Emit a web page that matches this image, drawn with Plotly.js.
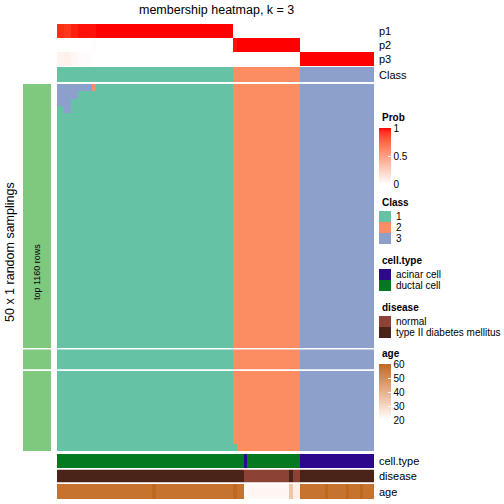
<!DOCTYPE html>
<html><head><meta charset="utf-8">
<script src="https://cdn.plot.ly/plotly-3.0.1.min.js"></script>
<style>html,body{margin:0;padding:0;background:#fff}#chart{width:504px;height:504px}</style>
</head><body><div id="chart"></div>
<script>
// ---------------- data ----------------
const nSamplings = 50;
const sliceRows = [36, 3, 11];           // row slices of the sampling matrix
const p1 = [0.94,0.94,0.92,0.92,0.96,0.96,0.98,0.98,0.98,0.98,
            0.98,1,1,1,1,1,1,1,1,1,
            1,1,1,1,1,1,1,1,1,1,
            1,1,1,1,1,1,1,1,1,1,
            1,1,1,1,1,1,1,1,1,1,
            0.02,0,0,0,0,0,0,0,0,0,
            0,0,0,0,0,0,0,0,0,0,
            0,0,0,0,0,0,0,0,0,0,
            0,0,0,0,0,0,0,0,0,0];
const p2 = [0,0,0,0,0,0,0,0,0,0,
            0.02,0,0,0,0,0,0,0,0,0,
            0,0,0,0,0,0,0,0,0,0,
            0,0,0,0,0,0,0,0,0,0,
            0,0,0,0,0,0,0,0,0,0,
            0.98,1,1,1,1,1,1,1,1,1,
            1,1,1,1,1,1,1,1,1,0,
            0,0,0,0,0,0,0,0,0,0,
            0,0,0,0,0,0,0,0,0,0];
const p3 = [0.06,0.06,0.08,0.08,0.04,0.04,0.02,0.02,0.02,0.02,
            0,0,0,0,0,0,0,0,0,0,
            0,0,0,0,0,0,0,0,0,0,
            0,0,0,0,0,0,0,0,0,0,
            0,0,0,0,0,0,0,0,0,0,
            0,0,0,0,0,0,0,0,0,0,
            0,0,0,0,0,0,0,0,0,1,
            1,1,1,1,1,1,1,1,1,1,
            1,1,1,1,1,1,1,1,1,1];
const classArr = [1,1,1,1,1,1,1,1,1,1,
                  1,1,1,1,1,1,1,1,1,1,
                  1,1,1,1,1,1,1,1,1,1,
                  1,1,1,1,1,1,1,1,1,1,
                  1,1,1,1,1,1,1,1,1,1,
                  2,2,2,2,2,2,2,2,2,2,
                  2,2,2,2,2,2,2,2,2,3,
                  3,3,3,3,3,3,3,3,3,3,
                  3,3,3,3,3,3,3,3,3,3];
// samplings whose class differs from the consensus class: row, first col, last col, class
const devRow   = [0, 0, 1, 2, 3, 49];
const devFrom  = [0, 10, 0, 0, 2, 50];
const devTo    = [9, 10, 5, 3, 3, 50];
const devClass = [3, 2, 3, 3, 3, 1];
// cell.type: 1 = acinar cell, 2 = ductal cell
const cellType = [2,2,2,2,2,2,2,2,2,2,
                  2,2,2,2,2,2,2,2,2,2,
                  2,2,2,2,2,2,2,2,2,2,
                  2,2,2,2,2,2,2,2,2,2,
                  2,2,2,2,2,2,2,2,2,2,
                  2,2,2,1,2,2,2,2,2,2,
                  2,2,2,2,2,2,2,2,2,1,
                  1,1,1,1,1,1,1,1,1,1,
                  1,1,1,1,1,1,1,1,1,1];
// disease: 1 = normal, 2 = type II diabetes mellitus
const disease = [2,2,2,2,2,2,2,2,2,2,
                 2,2,2,2,2,2,2,2,2,2,
                 2,2,2,2,2,2,2,2,2,2,
                 2,2,2,2,2,2,2,2,2,2,
                 2,2,2,2,2,2,2,2,2,2,
                 2,2,2,1,1,1,1,1,1,1,
                 1,1,1,1,1,1,2,1,1,2,
                 2,2,2,2,2,2,2,2,2,2,
                 2,2,2,2,2,2,2,2,2,2];
const age = [57,57,57,57,57,57,57,57,57,57,
             57,57,57,57,57,57,57,57,57,57,
             57,57,57,57,57,57,57,60,57,57,
             57,57,57,57,57,57,57,57,57,57,
             57,57,57,57,57,57,57,57,57,57,
             60,57,57,22,22,22,22,22,22,22,
             22,22,22,22,22,22,35,24,24,57,
             57,57,57,57,57,57,60,57,57,57,
             57,57,60,57,57,57,60,57,57,57];
const classLabels = ['1','2','3'];
const cellTypeLabels = ['acinar cell','ductal cell'];
const diseaseLabels = ['normal','type II diabetes mellitus'];
const probTicks = [0, 0.5, 1];
const ageTicks = [20, 30, 40, 50, 60];

// ---------------- styles ----------------
const classColors = ['#66c2a5','#fc8d62','#8da0cb'];
const cellTypeColors = ['#2e088c','#05791f'];
const diseaseColors = ['#8c4234','#4a2319'];
const barGreen = '#7fc97f';
const FONT = 'Liberation Sans, Arial, Helvetica, sans-serif';

function s2l(c){c/=255;return c<=0.04045?c/12.92:Math.pow((c+0.055)/1.055,2.4);}
function l2s(c){c=c<=0.0031308?12.92*c:1.055*Math.pow(Math.max(c,0),1/2.4)-0.055;return Math.round(Math.max(0,Math.min(1,c))*255);}
function rgb2lab(rgb){const R=s2l(rgb[0]),G=s2l(rgb[1]),B=s2l(rgb[2]);
  const X=(0.4124*R+0.3576*G+0.1805*B)/0.95047,Y=0.2126*R+0.7152*G+0.0722*B,Z=(0.0193*R+0.1192*G+0.9505*B)/1.08883;
  const f=t=>t>0.008856?Math.cbrt(t):7.787*t+16/116;const fx=f(X),fy=f(Y),fz=f(Z);
  return [116*fy-16,500*(fx-fy),200*(fy-fz)];}
function lab2rgb(l){const fy=(l[0]+16)/116,fx=fy+l[1]/500,fz=fy-l[2]/200;
  const fi=t=>t>0.206893?t*t*t:(t-16/116)/7.787;
  const X=fi(fx)*0.95047,Y=fi(fy),Z=fi(fz)*1.08883;
  const R=3.2406*X-1.5372*Y-0.4986*Z,G=-0.9689*X+1.8758*Y+0.0415*Z,B=0.0557*X-0.2040*Y+1.0570*Z;
  return 'rgb('+l2s(R)+','+l2s(G)+','+l2s(B)+')';}
function labScale(c0,c1,n){const a=rgb2lab(c0),b=rgb2lab(c1),s=[];
  for(let i=0;i<=n;i++){const t=i/n;s.push([t,lab2rgb(a.map((v,k)=>v+(b[k]-v)*t))]);}return s;}
function discrete(colors){const n=colors.length,s=[];
  colors.forEach((c,i)=>{s.push([i/n,c]);s.push([(i+1)/n,c]);});return s;}

const probScale = labScale([255,255,255],[255,0,0],20);
const ageScale = labScale([255,255,255],[191,104,30],20);

// ---------------- build sampling matrix ----------------
const membership = [];
for (let r=0;r<nSamplings;r++){ membership.push(classArr.slice()); }
devRow.forEach((r,i)=>{ for(let c=devFrom[i];c<=devTo[i];c++) membership[r][c]=devClass[i]; });

// ---------------- geometry (pixels) ----------------
const W=504,H=504;
const px = v => v/W;
const py = v => 1 - v/H;
const dom = (top,bottom) => [py(bottom), py(top)];

const sliceDom = [dom(84,348.3), dom(349.3,369.7), dom(371,451)];

const traces = [];
const hm = (z, xa, ya, cs, zmin, zmax, extra) => Object.assign({
  type:'heatmap', z:z, xaxis:xa, yaxis:ya, colorscale:cs, zmin:zmin, zmax:zmax,
  showscale:false, hoverinfo:'skip'}, extra||{});

// probability rows
traces.push(hm([p1,p2,p3],'x','y',probScale,0,1,{
  showscale:true,
  colorbar:{x:px(379),xanchor:'left',y:py(128),yanchor:'top',len:56,lenmode:'pixels',
    thickness:12,thicknessmode:'pixels',xpad:0,ypad:0,outlinewidth:0,
    tickvals:probTicks,ticktext:probTicks.map(String),ticks:'inside',ticklen:3,tickcolor:'white',
    tickfont:{family:FONT,size:10,color:'#000'}}
}));
// class row
traces.push(hm([classArr],'x','y2',discrete(classColors),1,3));
// sampling matrix slices
let start=0;
sliceRows.forEach((n,i)=>{
  const rows = membership.slice(start,start+n);
  traces.push(hm(rows,'x','y'+(3+i),discrete(classColors),1,3));
  traces.push(hm(rows.map(()=>[1]),'x2','y'+(3+i),[[0,barGreen],[1,barGreen]],0,1));
  start+=n;
});
traces.push(hm([cellType],'x','y6',discrete(cellTypeColors),1,2));
traces.push(hm([disease],'x','y7',discrete(diseaseColors),1,2));
traces.push(hm([age],'x','y8',ageScale,20,60,{
  showscale:true,
  colorbar:{x:px(379),xanchor:'left',y:py(364),yanchor:'top',len:56,lenmode:'pixels',
    thickness:12,thicknessmode:'pixels',xpad:0,ypad:0,outlinewidth:0,
    tickvals:ageTicks,ticktext:ageTicks.map(String),ticks:'inside',ticklen:3,tickcolor:'white',
    tickfont:{family:FONT,size:10,color:'#000'}}
}));

const hidden = (d,range) => ({domain:d,range:range,visible:false,fixedrange:true});
const layout = {
  width:W,height:H,margin:{l:0,r:0,t:0,b:0},paper_bgcolor:'#fff',plot_bgcolor:'#fff',
  showlegend:false,font:{family:FONT,size:10,color:'#000'},
  xaxis: hidden([px(57),px(374)],[-0.5,classArr.length-0.5]),
  xaxis2: hidden([px(23),px(51)],[-0.5,0.5]),
  yaxis: hidden(dom(24,66),[2.5,-0.5]),
  yaxis2: hidden(dom(67,82),[0.5,-0.5]),
  yaxis3: hidden(sliceDom[0],[sliceRows[0]-0.5,-0.5]),
  yaxis4: hidden(sliceDom[1],[sliceRows[1]-0.5,-0.5]),
  yaxis5: hidden(sliceDom[2],[sliceRows[2]-0.5,-0.5]),
  yaxis6: hidden(dom(454,468),[0.5,-0.5]),
  yaxis7: hidden(dom(469.5,482.5),[0.5,-0.5]),
  yaxis8: hidden(dom(484,499),[0.5,-0.5]),
  shapes:[], annotations:[]
};
const ann = (x,y,text,opt) => layout.annotations.push(Object.assign({
  x:px(x),y:py(y),xref:'paper',yref:'paper',text:text,showarrow:false,
  xanchor:'left',yanchor:'middle',font:{family:FONT,size:10,color:'#000'}},opt||{}));

ann(216,10,'membership heatmap, k = 3',{xanchor:'center',font:{family:FONT,size:12.5,color:'#000'}});
[['p1',31],['p2',45],['p3',59],['Class',74.5],['cell.type',461],['disease',476],['age',491.5]]
  .forEach(a=>ann(377,a[1],a[0],{font:{family:FONT,size:11,color:'#000'}}));
ann(10,252,'50 x 1 random samplings',{xanchor:'center',textangle:-90,font:{family:FONT,size:12.5,color:'#000'}});
ann(37,272,'top 1160 rows',{xanchor:'center',textangle:-90,font:{family:FONT,size:9,color:'#000'}});

// legends
const title = (y,t) => ann(380,y,'<b>'+t+'</b>',{font:{family:FONT,size:10,color:'#000'}});
title(117,'Prob');
function swatches(top,labels,colors,h){
  labels.forEach((lab,i)=>{
    const y0=top+i*h;
    layout.shapes.push({type:'rect',xref:'paper',yref:'paper',x0:px(379),x1:px(391),y0:py(y0+h),y1:py(y0),
      fillcolor:colors[i],line:{width:0}});
    ann(394,y0+h/2,lab);
  });
}
title(202,'Class'); swatches(211,classLabels,classColors,11);
title(260,'cell.type'); swatches(269,cellTypeLabels,cellTypeColors,11);
title(307,'disease'); swatches(316,diseaseLabels,diseaseColors,11);
title(353,'age');

Plotly.newPlot('chart',traces,layout,{staticPlot:true,displayModeBar:false});
</script></body></html>
